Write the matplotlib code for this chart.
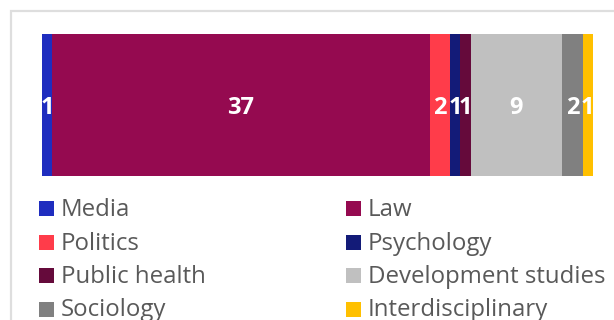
import matplotlib
matplotlib.use("Agg")
import matplotlib.pyplot as plt
from matplotlib.patches import Rectangle

# Publications by discipline
categories = ["Media", "Law", "Politics", "Psychology", "Public health",
              "Development studies", "Sociology", "Interdisciplinary"]
counts = [1, 37, 2, 1, 1, 9, 2, 1]
colors = ["#1f2dbf", "#950a50", "#ff3c4a", "#131b78", "#650a3b",
          "#c0c0c0", "#808080", "#ffc000"]

W, H = 614, 320
DPI = 100
plt.rcParams["font.family"] = ["Open Sans", "DejaVu Sans"]

fig = plt.figure(figsize=(W / DPI, H / DPI), dpi=DPI)
fig.patch.set_facecolor("white")


def fx(px):
    return px / W


def fy(py):
    return 1 - py / H


# Light frame around the panel
fig.add_artist(Rectangle((fx(10.5), fy(400)), fx(700), fy(10.5) - fy(400),
                         transform=fig.transFigure, facecolor="none",
                         edgecolor="#dedede", linewidth=1.6))

# Stacked bar
bar_left, bar_right, bar_top, bar_bottom = 42, 593, 34, 176
ax = fig.add_axes([fx(bar_left), fy(bar_bottom),
                   fx(bar_right - bar_left), (bar_bottom - bar_top) / H])
total = sum(counts)
left = 0
for cat, val, col in zip(categories, counts, colors):
    ax.barh(0, val, left=left, height=1, color=col, edgecolor="none")
    ax.text(left + val / 2, -0.063, str(val), ha="center", va="baseline",
            color="white", fontsize=17, fontweight="bold")
    left += val
ax.set_xlim(0, total)
ax.set_ylim(-0.5, 0.5)
ax.axis("off")

# Legend in two columns
col_x = [39, 346]
row_base = [216, 249.5, 283, 316.5]
sq = 15
for i, (cat, col) in enumerate(zip(categories, colors)):
    c, r = i % 2, i // 2
    x0, yb = col_x[c], row_base[r]
    fig.add_artist(Rectangle((fx(x0), fy(yb)), fx(sq), fy(yb - sq) - fy(yb),
                             transform=fig.transFigure, facecolor=col,
                             edgecolor="none"))
    fig.text(fx(x0 + sq + 7), fy(yb), cat, ha="left", va="baseline",
             fontsize=17.3, color="#595959")

fig.savefig("out.png", dpi=DPI)
